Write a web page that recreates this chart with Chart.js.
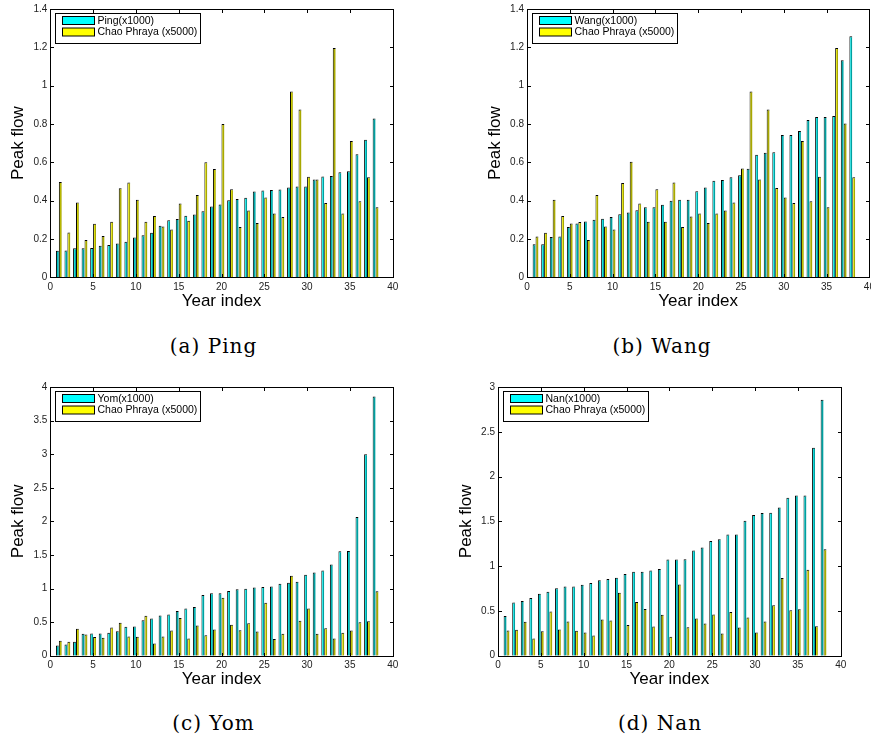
<!DOCTYPE html>
<html><head><meta charset="utf-8">
<script src="https://cdn.jsdelivr.net/npm/chart.js@4.4.0/dist/chart.umd.min.js"></script>
<style>
html,body{margin:0;padding:0;background:#fff;width:871px;height:740px;overflow:hidden;position:relative;}
canvas{position:absolute;}
.cap{position:absolute;font-family:"DejaVu Serif",serif;font-size:20px;letter-spacing:1px;line-height:1;color:#000;white-space:nowrap;transform:translate(-50%,-50%);}
</style></head><body>
<canvas id="cA"></canvas><canvas id="cB"></canvas><canvas id="cC"></canvas><canvas id="cD"></canvas>
<div class="cap" style="left:213.5px;top:346px">(a) Ping</div>
<div class="cap" style="left:662px;top:346px">(b) Wang</div>
<div class="cap" style="left:213.5px;top:722.5px">(c) Yom</div>
<div class="cap" style="left:660px;top:722.5px">(d) Nan</div>
<script>
// ---- data ----
const YEARS = Array.from({length:38},(_,i)=>i+1);
const X_TICKS = [0,5,10,15,20,25,30,35,40];
const Y_TICKS_AB = [0,0.2,0.4,0.6,0.8,1,1.2,1.4];
const Y_TICKS_C = [0,0.5,1,1.5,2,2.5,3,3.5,4];
const Y_TICKS_D = [0,0.5,1,1.5,2,2.5,3];

const PING = [0.139,0.140,0.151,0.151,0.153,0.165,0.168,0.177,0.186,0.208,0.219,0.232,0.269,0.298,0.304,0.321,0.328,0.344,0.370,0.380,0.402,0.409,0.415,0.448,0.453,0.456,0.458,0.468,0.474,0.474,0.510,0.526,0.529,0.548,0.553,0.642,0.718,0.828];
const CP_PING = [0.497,0.234,0.390,0.195,0.280,0.215,0.290,0.465,0.495,0.405,0.290,0.320,0.265,0.250,0.385,0.295,0.430,0.600,0.565,0.800,0.459,0.262,0.348,0.283,0.416,0.333,0.315,0.969,0.875,0.525,0.510,0.388,1.196,0.333,0.711,0.397,0.522,0.366];

const WANG = [0.172,0.172,0.210,0.213,0.263,0.281,0.291,0.300,0.305,0.315,0.329,0.338,0.350,0.366,0.366,0.378,0.399,0.405,0.405,0.449,0.468,0.504,0.508,0.522,0.532,0.567,0.640,0.650,0.653,0.742,0.742,0.764,0.821,0.837,0.837,0.842,1.132,1.258];
const CP_WANG = [0.213,0.232,0.405,0.320,0.281,0.289,0.194,0.430,0.265,0.250,0.492,0.603,0.385,0.290,0.459,0.290,0.495,0.262,0.317,0.333,0.283,0.333,0.348,0.390,0.568,0.969,0.510,0.875,0.466,0.416,0.388,0.711,0.397,0.525,0.366,1.196,0.802,0.522];

const YOM = [0.153,0.168,0.207,0.326,0.331,0.331,0.340,0.365,0.430,0.435,0.528,0.553,0.598,0.612,0.667,0.701,0.726,0.904,0.928,0.928,0.963,0.988,0.998,1.017,1.022,1.032,1.072,1.086,1.100,1.205,1.240,1.269,1.358,1.556,1.560,2.064,2.998,3.857];
const CP_YOM = [0.222,0.207,0.400,0.316,0.277,0.267,0.420,0.489,0.286,0.281,0.593,0.183,0.286,0.375,0.563,0.257,0.449,0.306,0.390,0.864,0.459,0.380,0.484,0.360,0.790,0.247,0.326,1.190,0.519,0.701,0.326,0.410,0.257,0.341,0.375,0.499,0.514,0.958];

const NAN = [0.444,0.593,0.611,0.644,0.693,0.715,0.752,0.774,0.774,0.793,0.811,0.841,0.856,0.870,0.911,0.937,0.937,0.952,0.967,1.074,1.074,1.078,1.174,1.207,1.281,1.300,1.352,1.352,1.507,1.570,1.593,1.596,1.656,1.763,1.789,1.789,2.322,2.859];
const CP_NAN = [0.281,0.289,0.378,0.193,0.274,0.493,0.293,0.381,0.278,0.259,0.226,0.404,0.393,0.704,0.344,0.600,0.522,0.326,0.456,0.211,0.796,0.319,0.415,0.359,0.459,0.248,0.489,0.315,0.426,0.259,0.381,0.563,0.867,0.507,0.519,0.959,0.330,1.189];

const CP_LABEL = 'Chao Phraya (x5000)';

// ---- styling ----
const CYAN = '#00ffff', CYAN_D = '#00a0a0', YEL = '#ffff00', YEL_D = '#a8a800';
const SANS = '"Liberation Sans", Arial, sans-serif';
const TL = 3.5;

function barFill(light, dark, off){
  return (c) => {
    if (c.type !== 'data' || !c.parsed) return light;
    const xs = c.chart.scales.x;
    if (!xs) return light;
    const unit = xs.getPixelForValue(1) - xs.getPixelForValue(0);
    if (!isFinite(unit)) return light;
    const cx = xs.getPixelForValue(c.parsed.x) + off*unit;
    const hw = 0.17*unit;
    const g = c.chart.ctx.createLinearGradient(cx-hw,0,cx+hw,0);
    g.addColorStop(0,light); g.addColorStop(0.4,light); g.addColorStop(0.6,dark); g.addColorStop(1,dark);
    return g;
  };
}

const framePlugin = {
  id:'frame',
  afterDatasetsDraw(chart){
    const {ctx, chartArea:a, scales:{x,y}} = chart;
    const L = Math.round(a.left)+0.5, R = Math.round(a.right)+0.5, T = Math.round(a.top)+0.5, B = Math.round(a.bottom)+0.5;
    ctx.save();
    ctx.strokeStyle = '#000'; ctx.lineWidth = 1;
    ctx.beginPath();
    x.ticks.forEach(t=>{ const p = Math.round(x.getPixelForValue(t.value))+0.5;
      ctx.moveTo(p,B); ctx.lineTo(p,B-TL); ctx.moveTo(p,T); ctx.lineTo(p,T+TL); });
    y.ticks.forEach(t=>{ const p = Math.round(y.getPixelForValue(t.value))+0.5;
      ctx.moveTo(L,p); ctx.lineTo(L+TL,p); ctx.moveTo(R,p); ctx.lineTo(R-TL,p); });
    ctx.stroke();
    ctx.strokeRect(L,T,R-L,B-T);
    ctx.restore();
  }
};

function legendPlugin(labels){
  return {
    id:'boxLegend',
    afterDraw(chart){
      const {ctx, chartArea:a} = chart;
      const bx = Math.round(a.left+5)+0.5, by = Math.round(a.top+3.5)+0.5, w = 145, h = 30;
      ctx.save();
      ctx.fillStyle = '#fff'; ctx.fillRect(bx,by,w,h);
      ctx.strokeStyle = '#000'; ctx.lineWidth = 1; ctx.strokeRect(bx,by,w,h);
      const cols = [CYAN, YEL];
      const rows = [by+3, by+14.5];
      ctx.font = '10.5px ' + SANS; ctx.textBaseline = 'middle'; ctx.textAlign = 'left';
      labels.forEach((lab,i)=>{
        ctx.fillStyle = cols[i]; ctx.fillRect(bx+7, rows[i], 32, 8);
        ctx.strokeStyle = '#000'; ctx.strokeRect(bx+7, rows[i], 32, 8);
        ctx.fillStyle = '#000'; ctx.fillText(lab, bx+42, rows[i]+4.5);
      });
      ctx.restore();
    }
  };
}

function makeChart(id, g, tribLabel, tribData, cpData, yMax, yTicks){
  const cv = document.getElementById(id);
  cv.width = g.cw; cv.height = g.ch;
  cv.style.left = g.cx+'px'; cv.style.top = g.cy+'px';
  const YW = 50;
  const padL = (g.l - g.cx) - YW, padT = g.t - g.cy, padR = g.cw - (g.r - g.cx);
  const xH = g.ch - (g.b - g.cy);
  const fmt = v => String(Math.round(v*10)/10);
  new Chart(cv, {
    type:'bar',
    data:{ datasets:[
      { label: tribLabel, data: YEARS.map((x,i)=>({x, y: tribData[i]})),
        backgroundColor: barFill(CYAN, CYAN_D, -0.17), borderColor:'#000',
        borderWidth:{left:1, top:1, right:0, bottom:0}, borderSkipped:'start' },
      { label: CP_LABEL, data: YEARS.map((x,i)=>({x, y: cpData[i]})),
        backgroundColor: barFill(YEL, YEL_D, 0.17), borderColor:'#000',
        borderWidth:{left:1, top:1, right:0, bottom:0}, borderSkipped:'start' }
    ]},
    options:{
      responsive:false, animation:false, devicePixelRatio:1,
      layout:{padding:{left:padL, top:padT, right:padR, bottom:0}},
      plugins:{legend:{display:false}, tooltip:{enabled:false}},
      datasets:{bar:{categoryPercentage:0.68, barPercentage:1.0}},
      scales:{
        x:{ type:'linear', min:0, max:40, offset:false,
            grid:{display:false, drawTicks:false}, border:{display:false},
            afterBuildTicks: s => { s.ticks = X_TICKS.map(v=>({value:v})); },
            ticks:{ font:{family:SANS, size:10}, color:'#222', padding:4, maxRotation:0, autoSkip:false, callback: v => String(v) },
            title:{ display:true, text:'Year index', font:{family:SANS, size:17}, color:'#000', padding:{top:0, bottom:8.3} },
            afterFit: s => { s.height = xH; } },
        y:{ type:'linear', min:0, max:yMax,
            grid:{display:false, drawTicks:false}, border:{display:false},
            afterBuildTicks: s => { s.ticks = yTicks.map(v=>({value:v})); },
            ticks:{ font:{family:SANS, size:10}, color:'#222', padding:3, autoSkip:false, callback: v => fmt(v) },
            title:{ display:true, text:'Peak flow', font:{family:SANS, size:17}, color:'#000', padding:{top:7.8, bottom:0} },
            afterFit: s => { s.width = YW; } }
      }
    },
    plugins:[framePlugin, legendPlugin([tribLabel, CP_LABEL])]
  });
}

makeChart('cA', {cx:0,   cy:0,   cw:440, ch:320, l:50.3, t:8.3,   r:392.7, b:277.3}, 'Ping(x1000)', PING, CP_PING, 1.4, Y_TICKS_AB);
makeChart('cB', {cx:477, cy:0,   cw:430, ch:320, l:527,  t:8.3,   r:869.4, b:277.3}, 'Wang(x1000)', WANG, CP_WANG, 1.4, Y_TICKS_AB);
makeChart('cC', {cx:0,   cy:378, cw:440, ch:320, l:50.3, t:385.7, r:392.7, b:655.7}, 'Yom(x1000)',  YOM,  CP_YOM,  4,   Y_TICKS_C);
makeChart('cD', {cx:448, cy:378, cw:440, ch:320, l:498,  t:385.7, r:840.7, b:655.7}, 'Nan(x1000)',  NAN,  CP_NAN,  3,   Y_TICKS_D);
</script>
</body></html>
